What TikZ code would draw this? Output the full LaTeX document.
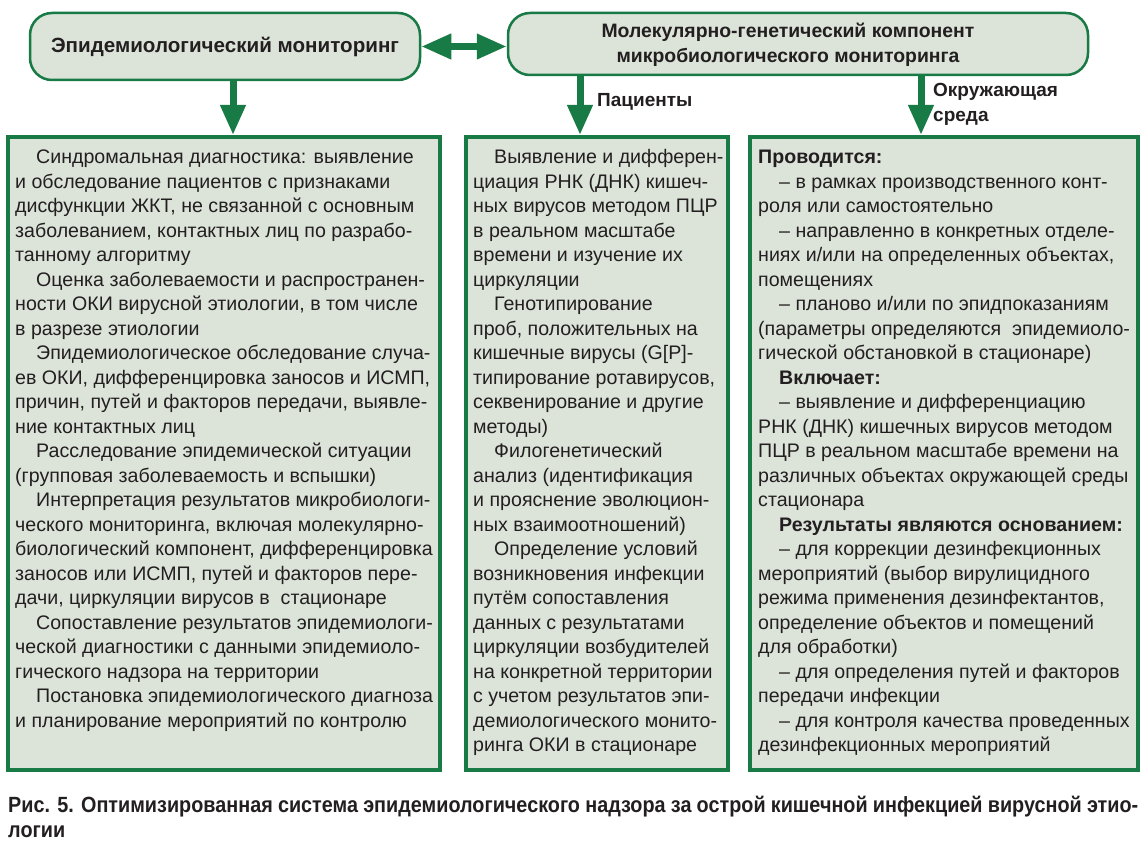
\documentclass[tikz,border=0pt]{standalone}
\usepackage{fontspec}
\setmainfont{Liberation Sans}
\newfontfamily\capfont[FakeStretch=0.9]{Liberation Sans}
\usetikzlibrary{arrows.meta,positioning}
\definecolor{mongreen}{RGB}{24,122,68}
\definecolor{monfill}{RGB}{220,228,218}
\definecolor{montext}{RGB}{35,31,32}
\newcommand{\ind}{\hspace*{21pt}}

\begin{document}
\begin{tikzpicture}[
    x=1pt,y=-1pt,
    head/.style={rectangle,draw=mongreen,line width=2.5pt,fill=monfill,rounded corners=22pt},
    headtxt/.style={align=center,inner sep=0pt,font=\bfseries\fontsize{19.4}{25}\selectfont,text=montext},
    panel/.style={rectangle,draw=mongreen,line width=4pt,fill=monfill},
    txt/.style={anchor=base west,inner sep=0pt,font=\fontsize{19.6}{24.5}\selectfont,text=montext},
    lbl/.style={anchor=base west,inner sep=0pt,font=\bfseries\fontsize{19}{25}\selectfont,text=montext},
    arrow/.style={draw=mongreen,line width=7pt,-{Triangle[width=24pt,length=30pt]}},
    bidir/.style={draw=mongreen,line width=7pt,{Triangle[width=24pt,length=30pt]}-{Triangle[width=24pt,length=30pt]}}
]
    \useasboundingbox (0,0) rectangle (1148,850);

    % Top row
    \node[head,minimum width=390pt,minimum height=67pt] (epid) at (225,46.5) {};
    \node[headtxt,font=\bfseries\fontsize{20.6}{25}\selectfont] (epidtxt) at (225,47) {Эпидемиологический мониторинг};
    \node[head,minimum width=580pt,minimum height=62pt] (mol) at (798,44) {};
    \node[headtxt] (moltxt) at (788,45) {Молекулярно-генетический компонент\\микробиологического мониторинга};
    \draw[bidir] (epid.east) -- (epid.east -| mol.west);

    % Panels
    \node[panel,minimum width=432pt,minimum height=633pt] (boxA) at (224,453.5) {};
    \node[panel,minimum width=262pt,minimum height=633pt] (boxB) at (597,453.5) {};
    \node[panel,minimum width=388pt,minimum height=633pt] (boxC) at (944,453.5) {};

    % Arrows down
    \draw[arrow] (233,0 |- epid.south) -- (233,0 |- boxA.north);
    \draw[arrow] (580,0 |- mol.south) -- (580,0 |- boxB.north);
    \draw[arrow] (921,0 |- mol.south) -- (921,0 |- boxC.north);
    \node[lbl] (patlbl) at (597,107) {Пациенты};
    \node[lbl] (envlbl) at (933,97) {\parbox[t]{160pt}{Окружающая\\среда}};

    % Panel texts
    \node[txt] (txtA) at (15,164) {\parbox[t]{440pt}{%
        \ind Синдромальная диагностика: выявление\\
        и обследование пациентов с признаками\\
        дисфункции ЖКТ, не связанной с основным\\
        заболеванием, контактных лиц по разрабо-\\
        танному алгоритму\\
        \ind Оценка заболеваемости и распространен-\\
        ности ОКИ вирусной этиологии, в том числе\\
        в разрезе этиологии\\
        \ind Эпидемиологическое обследование случа-\\
        ев ОКИ, дифференцировка заносов и ИСМП,\\
        причин, путей и факторов передачи, выявле-\\
        ние контактных лиц\\
        \ind Расследование эпидемической ситуации\\
        (групповая заболеваемость и вспышки)\\
        \ind Интерпретация результатов микробиологи-\\
        ческого мониторинга, включая молекулярно-\\
        биологический компонент, дифференцировка\\
        заносов или ИСМП, путей и факторов пере-\\
        дачи, циркуляции вирусов в\ \ стационаре\\
        \ind Сопоставление результатов эпидемиологи-\\
        ческой диагностики с данными эпидемиоло-\\
        гического надзора на территории\\
        \ind Постановка эпидемиологического диагноза\\
        и планирование мероприятий по контролю}};
    \node[txt] (txtB) at (473,164) {\parbox[t]{270pt}{%
        \ind Выявление и дифферен-\\
        циация РНК (ДНК) кишеч-\\
        ных вирусов методом ПЦР\\
        в реальном масштабе\\
        времени и изучение их\\
        циркуляции\\
        \ind Генотипирование\\
        проб, положительных на\\
        кишечные вирусы (G[P]-\\
        типирование ротавирусов,\\
        секвенирование и другие\\
        методы)\\
        \ind Филогенетический\\
        анализ (идентификация\\
        и прояснение эволюцион-\\
        ных взаимоотношений)\\
        \ind Определение условий\\
        возникновения инфекции\\
        путём сопоставления\\
        данных с результатами\\
        циркуляции возбудителей\\
        на конкретной территории\\
        с учетом результатов эпи-\\
        демиологического монито-\\
        ринга ОКИ в стационаре}};
    \node[txt] (txtC) at (758,164) {\parbox[t]{390pt}{%
        \textbf{Проводится:}\\
        \ind – в рамках производственного конт-\\
        роля или самостоятельно\\
        \ind – направленно в конкретных отделе-\\
        ниях и/или на определенных объектах,\\
        помещениях\\
        \ind – планово и/или по эпидпоказаниям\\
        (параметры определяются\ \ эпидемиоло-\\
        гической обстановкой в стационаре)\\
        \ind\textbf{Включает:}\\
        \ind – выявление и дифференциацию\\
        РНК (ДНК) кишечных вирусов методом\\
        ПЦР в реальном масштабе времени на\\
        различных объектах окружающей среды\\
        стационара\\
        \ind\textbf{Результаты являются основанием:}\\
        \ind – для коррекции дезинфекционных\\
        мероприятий (выбор вирулицидного\\
        режима применения дезинфектантов,\\
        определение объектов и помещений\\
        для обработки)\\
        \ind – для определения путей и факторов\\
        передачи инфекции\\
        \ind – для контроля качества проведенных\\
        дезинфекционных мероприятий}};

    % Caption
    \node[txt,font=\capfont\bfseries\fontsize{22}{25}\selectfont] (caption) at (8,812) {\parbox[t]{1140pt}{%
        \makebox[1130pt][s]{Рис. 5. Оптимизированная система эпидемиологического надзора за острой кишечной инфекцией вирусной этио-}\\
        логии}};
\end{tikzpicture}
\end{document}
